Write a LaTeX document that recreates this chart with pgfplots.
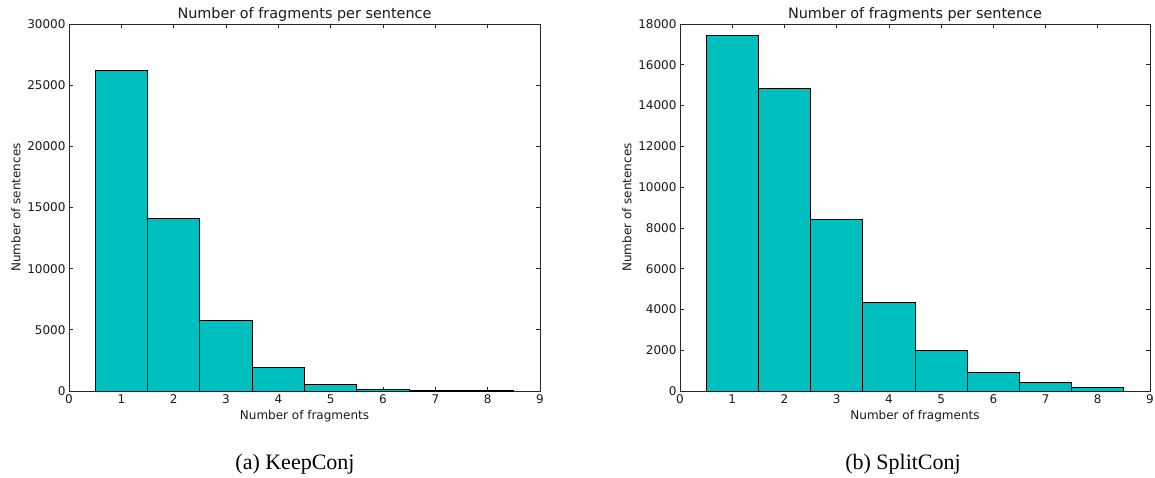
\documentclass[border=0pt]{standalone}
\usepackage{pgfplots}
\pgfplotsset{compat=1.18}
\usepackage{fontspec}
\setmainfont{Liberation Serif}
\newfontfamily\dejavu{DejaVu Sans}
\definecolor{mplcyan}{rgb}{0,0.75,0.75}
\pgfplotsset{
  histstyle/.style={
    scale only axis,
    width=471pt, height=367pt,
    xmin=0, xmax=9, ymin=0,
    xtick={0,1,...,9},
    scaled y ticks=false,
    tick align=inside,
    major tick length=4pt,
    axis line style={line width=0.9pt, black!85},
    every tick/.style={black!85, line width=0.7pt},
    tick label style={font=\dejavu\fontsize{12}{14}\selectfont, black!90},
    label style={font=\dejavu\fontsize{12}{14}\selectfont, black!90},
    title style={font=\dejavu\fontsize{14.4}{16}\selectfont, black!90, yshift=-7pt},
    /pgf/number format/.cd, 1000 sep={}, assume math mode=true,
  },
}
\begin{document}
\begin{tikzpicture}
\path[use as bounding box] (0pt,0pt) rectangle (1155pt,477pt);
\begin{axis}[histstyle, at={(69pt,86pt)}, anchor=south west,
  ymax=30000, ytick={0,5000,...,30000},
  title={Number of fragments per sentence},
  xlabel={Number of fragments}, ylabel={Number of sentences}]
\addplot[ybar, bar width=1, bar shift=0pt, fill=mplcyan, draw=black, line width=0.9pt]
  coordinates {(1,26200) (2,14100) (3,5730) (4,1930) (5,570) (6,150) (7,40) (8,20)};
\end{axis}
\begin{axis}[histstyle, at={(680pt,86pt)}, anchor=south west, width=470pt,
  ymax=18000, ytick={0,2000,...,18000},
  title={Number of fragments per sentence},
  xlabel={Number of fragments}, ylabel={Number of sentences}]
\addplot[ybar, bar width=1, bar shift=0pt, fill=mplcyan, draw=black, line width=0.9pt]
  coordinates {(1,17420) (2,14850) (3,8390) (4,4350) (5,1970) (6,930) (7,430) (8,160)};
\end{axis}
\node[anchor=base, font=\fontsize{22}{26}\selectfont] at (295pt,8pt) {(a) KeepConj};
\node[anchor=base, font=\fontsize{22}{26}\selectfont] at (903pt,8pt) {(b) SplitConj};
\end{tikzpicture}
\end{document}
